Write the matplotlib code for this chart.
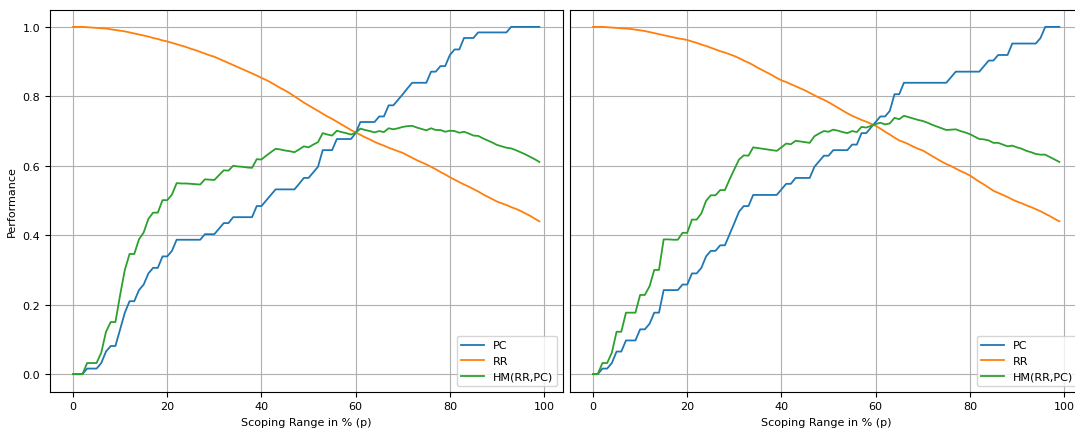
import matplotlib
matplotlib.use("Agg")
import matplotlib.pyplot as plt

# scoping range in % (p)
scope = list(range(100))

# left panel
left_pc = [0, 0, 0, 0.016, 0.016, 0.016, 0.032, 0.065, 0.081, 0.081,
           0.129, 0.177, 0.210, 0.210, 0.242, 0.258, 0.290, 0.306, 0.306, 0.339,
           0.339, 0.355, 0.387, 0.387, 0.387, 0.387, 0.387, 0.387, 0.403, 0.403,
           0.403, 0.419, 0.435, 0.435, 0.452, 0.452, 0.452, 0.452, 0.452, 0.484,
           0.484, 0.500, 0.516, 0.532, 0.532, 0.532, 0.532, 0.532, 0.548, 0.565,
           0.565, 0.581, 0.597, 0.645, 0.645, 0.645, 0.677, 0.677, 0.677, 0.677,
           0.694, 0.726, 0.726, 0.726, 0.726, 0.742, 0.742, 0.774, 0.774, 0.790,
           0.806, 0.823, 0.839, 0.839, 0.839, 0.839, 0.871, 0.871, 0.887, 0.887,
           0.919, 0.935, 0.935, 0.968, 0.968, 0.968, 0.984, 0.984, 0.984, 0.984,
           0.984, 0.984, 0.984, 1.0, 1.0, 1.0, 1.0, 1.0, 1.0, 1.0]
left_rr = [1.000, 1.000, 1.000, 0.999, 0.998, 0.997, 0.996, 0.995, 0.993, 0.991,
           0.989, 0.987, 0.984, 0.981, 0.978, 0.975, 0.972, 0.968, 0.965, 0.961,
           0.958, 0.954, 0.950, 0.946, 0.942, 0.937, 0.933, 0.928, 0.923, 0.918,
           0.914, 0.908, 0.902, 0.896, 0.890, 0.884, 0.878, 0.872, 0.866, 0.860,
           0.853, 0.847, 0.840, 0.832, 0.824, 0.817, 0.809, 0.800, 0.791, 0.782,
           0.774, 0.766, 0.758, 0.750, 0.742, 0.735, 0.727, 0.719, 0.711, 0.703,
           0.696, 0.689, 0.682, 0.676, 0.669, 0.663, 0.658, 0.652, 0.647, 0.642,
           0.637, 0.630, 0.623, 0.616, 0.610, 0.604, 0.597, 0.590, 0.582, 0.575,
           0.567, 0.560, 0.553, 0.546, 0.540, 0.533, 0.526, 0.518, 0.511, 0.504,
           0.497, 0.492, 0.487, 0.481, 0.476, 0.470, 0.463, 0.456, 0.448, 0.440]
left_hm = [0, 0, 0, 0.032, 0.032, 0.032, 0.062, 0.122, 0.150, 0.150,
           0.228, 0.300, 0.346, 0.346, 0.388, 0.408, 0.447, 0.465, 0.465, 0.501,
           0.501, 0.517, 0.550, 0.549, 0.549, 0.548, 0.547, 0.546, 0.561, 0.560,
           0.559, 0.573, 0.587, 0.586, 0.600, 0.598, 0.597, 0.595, 0.594, 0.619,
           0.618, 0.629, 0.639, 0.649, 0.647, 0.644, 0.642, 0.639, 0.647, 0.656,
           0.653, 0.661, 0.668, 0.694, 0.690, 0.687, 0.701, 0.697, 0.694, 0.690,
           0.695, 0.707, 0.703, 0.700, 0.696, 0.700, 0.697, 0.708, 0.705, 0.708,
           0.712, 0.714, 0.715, 0.710, 0.706, 0.702, 0.708, 0.703, 0.703, 0.698,
           0.701, 0.700, 0.695, 0.698, 0.693, 0.687, 0.686, 0.679, 0.673, 0.667,
           0.660, 0.656, 0.652, 0.650, 0.645, 0.639, 0.633, 0.626, 0.619, 0.611]

# right panel
right_pc = [0, 0, 0.016, 0.016, 0.032, 0.065, 0.065, 0.097, 0.097, 0.097,
            0.129, 0.129, 0.145, 0.177, 0.177, 0.242, 0.242, 0.242, 0.242, 0.258,
            0.258, 0.290, 0.290, 0.306, 0.339, 0.355, 0.355, 0.371, 0.371, 0.403,
            0.435, 0.468, 0.484, 0.484, 0.516, 0.516, 0.516, 0.516, 0.516, 0.516,
            0.532, 0.548, 0.548, 0.565, 0.565, 0.565, 0.565, 0.597, 0.613, 0.629,
            0.629, 0.645, 0.645, 0.645, 0.645, 0.661, 0.661, 0.694, 0.694, 0.710,
            0.726, 0.742, 0.742, 0.758, 0.806, 0.806, 0.839, 0.839, 0.839, 0.839,
            0.839, 0.839, 0.839, 0.839, 0.839, 0.839, 0.855, 0.871, 0.871, 0.871,
            0.871, 0.871, 0.871, 0.887, 0.903, 0.903, 0.919, 0.919, 0.919, 0.952,
            0.952, 0.952, 0.952, 0.952, 0.952, 0.968, 1.0, 1.0, 1.0, 1.0]
right_rr = [1.000, 1.000, 1.000, 0.999, 0.998, 0.997, 0.996, 0.995, 0.994, 0.992,
            0.990, 0.988, 0.985, 0.982, 0.979, 0.976, 0.973, 0.970, 0.967, 0.965,
            0.962, 0.958, 0.954, 0.949, 0.945, 0.940, 0.935, 0.930, 0.926, 0.921,
            0.916, 0.910, 0.903, 0.897, 0.890, 0.882, 0.875, 0.868, 0.861, 0.853,
            0.846, 0.841, 0.835, 0.829, 0.823, 0.817, 0.810, 0.803, 0.796, 0.790,
            0.783, 0.775, 0.767, 0.759, 0.751, 0.744, 0.738, 0.732, 0.727, 0.721,
            0.715, 0.707, 0.698, 0.690, 0.681, 0.673, 0.668, 0.662, 0.655, 0.649,
            0.644, 0.636, 0.628, 0.620, 0.612, 0.605, 0.599, 0.592, 0.585, 0.579,
            0.572, 0.563, 0.554, 0.546, 0.537, 0.528, 0.522, 0.516, 0.510, 0.503,
            0.497, 0.492, 0.486, 0.481, 0.475, 0.469, 0.462, 0.455, 0.447, 0.440]
right_hm = [0, 0, 0.032, 0.032, 0.062, 0.122, 0.122, 0.177, 0.177, 0.177,
            0.228, 0.228, 0.253, 0.300, 0.300, 0.388, 0.388, 0.387, 0.387, 0.407,
            0.407, 0.445, 0.445, 0.463, 0.499, 0.515, 0.515, 0.530, 0.530, 0.561,
            0.590, 0.618, 0.630, 0.629, 0.653, 0.651, 0.649, 0.647, 0.645, 0.643,
            0.653, 0.664, 0.662, 0.672, 0.670, 0.668, 0.666, 0.685, 0.693, 0.700,
            0.698, 0.704, 0.701, 0.697, 0.694, 0.700, 0.697, 0.712, 0.710, 0.715,
            0.720, 0.724, 0.719, 0.722, 0.738, 0.734, 0.744, 0.740, 0.736, 0.732,
            0.729, 0.724, 0.718, 0.713, 0.708, 0.703, 0.704, 0.705, 0.700, 0.696,
            0.691, 0.684, 0.677, 0.676, 0.673, 0.666, 0.666, 0.661, 0.656, 0.658,
            0.653, 0.649, 0.643, 0.639, 0.634, 0.632, 0.632, 0.625, 0.618, 0.611]

plt.rcParams.update({'font.size': 8})
fig = plt.figure(figsize=(10.75, 4.31), dpi=100)
W, H = 1075.0, 431.0
ax1 = fig.add_axes([49.7 / W, 38.5 / H, 513 / W, 382 / H])
ax2 = fig.add_axes([569.7 / W, 38.5 / H, 513 / W, 382 / H], sharey=ax1)

panels = [(ax1, left_pc, left_rr, left_hm), (ax2, right_pc, right_rr, right_hm)]
for ax, pc, rr, hm in panels:
    ax.plot(scope, pc, lw=1.3, label="PC")
    ax.plot(scope, rr, lw=1.3, label="RR")
    ax.plot(scope, hm, lw=1.3, label="HM(RR,PC)")
    ax.grid(True, lw=0.8)
    ax.set_xlabel("Scoping Range in % (p)")
    ax.legend(loc="lower right", frameon=True)

ax1.set_ylabel("Performance")
# right panel shares the y axis, no ticks shown
ax2.tick_params(left=False, labelleft=False)

fig.savefig("out.png", dpi=100)
